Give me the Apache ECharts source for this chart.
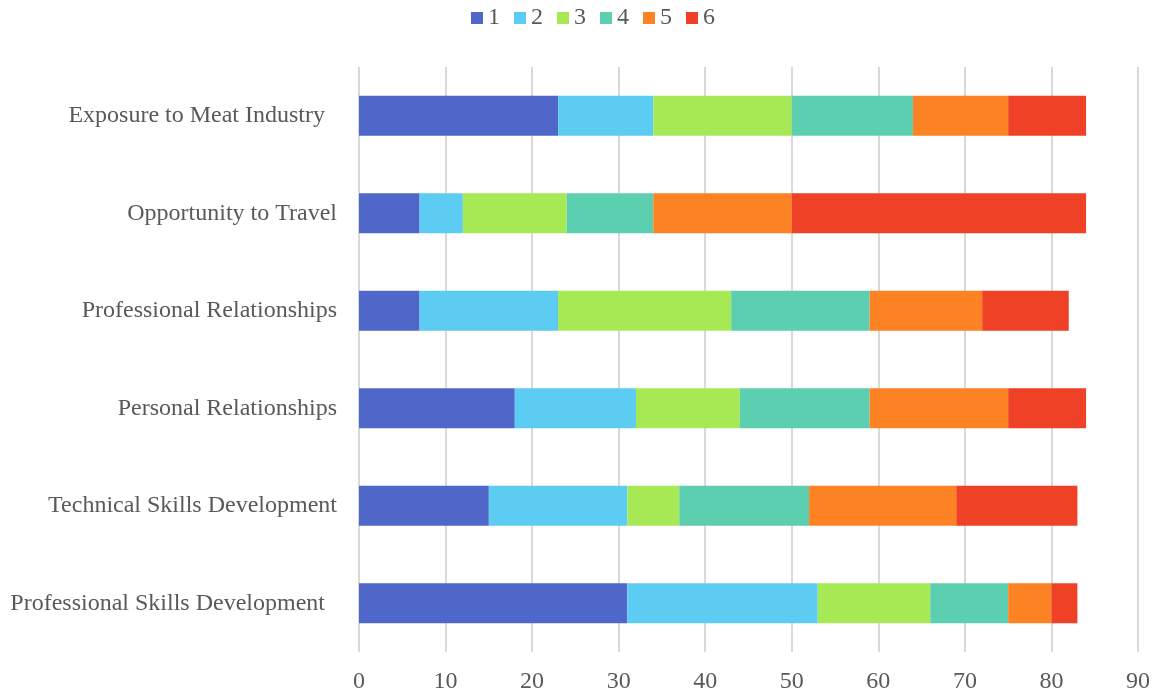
<!DOCTYPE html>
<html>
<head>
<meta charset="utf-8">
<script src="https://cdn.jsdelivr.net/npm/echarts@6/dist/echarts.min.js"></script>
<style>
  html, body { margin: 0; padding: 0; background: #ffffff; }
  #chart { width: 1155px; height: 696px; }
</style>
</head>
<body>
<div id="chart"></div>
<script>
// Categories listed top to bottom (two carry trailing spaces in the source labels)
const categories = [
  'Exposure to Meat Industry  ',
  'Opportunity to Travel',
  'Professional Relationships',
  'Personal Relationships',
  'Technical Skills Development',
  'Professional Skills Development  '
];

// Number of responses per rating, same order as categories
const rating1 = [23, 7, 7, 18, 15, 31];
const rating2 = [11, 5, 16, 14, 16, 22];
const rating3 = [16, 12, 20, 12, 6, 13];
const rating4 = [14, 10, 16, 15, 15, 9];
const rating5 = [11, 16, 13, 16, 17, 5];
const rating6 = [9, 34, 10, 9, 14, 3];

const seriesNames = ['1', '2', '3', '4', '5', '6'];
const seriesData = [rating1, rating2, rating3, rating4, rating5, rating6];
const colors = ['#4F67C9', '#5DCCF2', '#A7E955', '#5CCFB1', '#FD8223', '#EF4126'];

const xTicks = { min: 0, max: 90, interval: 10 };

const font = 'Liberation Serif, Times New Roman, serif';

const chart = echarts.init(document.getElementById('chart'), null, { renderer: 'canvas' });

chart.setOption({
  animation: false,
  backgroundColor: '#ffffff',
  color: colors,
  textStyle: { fontFamily: font },
  legend: {
    top: 1,
    left: 466,
    itemWidth: 12,
    itemHeight: 12,
    itemGap: 14,
    icon: 'rect',
    textStyle: { fontFamily: font, fontSize: 24, color: '#595959' },
    data: seriesNames
  },
  grid: {
    left: 359,
    right: 17,
    top: 67,
    bottom: 44,
    containLabel: false
  },
  xAxis: {
    type: 'value',
    min: xTicks.min,
    max: xTicks.max,
    interval: xTicks.interval,
    axisLine: { show: false },
    axisTick: { show: false },
    axisLabel: { fontFamily: font, fontSize: 24, color: '#595959', margin: 18 },
    splitLine: { show: true, lineStyle: { color: '#d9d9d9', width: 2 } }
  },
  yAxis: {
    type: 'category',
    inverse: true,
    data: categories,
    axisLine: { show: false },
    axisTick: { show: false },
    axisLabel: { fontFamily: font, fontSize: 24, color: '#595959', margin: 22 }
  },
  series: seriesNames.map((name, i) => ({
    name: name,
    type: 'bar',
    stack: 'total',
    barWidth: 40,
    data: seriesData[i],
    itemStyle: { color: colors[i] }
  }))
});
</script>
</body>
</html>
